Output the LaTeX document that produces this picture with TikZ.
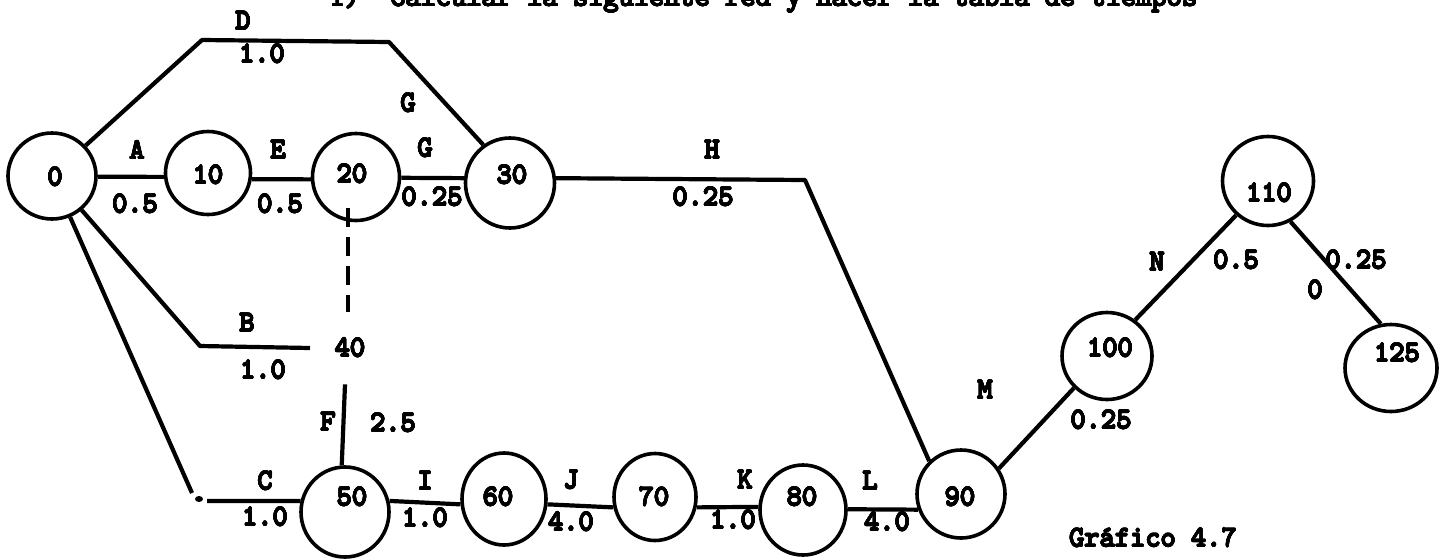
\documentclass[tikz,border=0pt]{standalone}
\usepackage{fontspec}
\newfontfamily\tw{lmmono10-regular.otf}
\usepackage{contour}
\contourlength{0.32pt}
\contournumber{20}
\newcommand{\ctx}[1]{\contour{black}{#1}}
\usetikzlibrary{shapes.geometric}
\begin{document}
\begin{tikzpicture}[x=0.5pt,y=-0.5pt,
  ev/.style={draw, ellipse, line width=1.8pt, inner sep=0pt},
  conn/.style={line width=2.1pt, line join=round},
  lab/.style={font=\tw\fontsize{14.5}{17}\selectfont, inner sep=0pt},
  dash20/.style={line width=2pt, dash pattern=on 9.5pt off 5pt}]
\useasboundingbox (0,0) rectangle (1439,558);

% title (partly cut off at the top, as in the reference)
\node[lab, anchor=base west] (title) at (329,6) {\ctx{1)~~Calcular la siguiente red y hacer la tabla de tiempos}};

% event circles
\node[ev, minimum width=44pt, minimum height=43pt] (n0)   at (52,176)  {};
\node[ev, minimum width=42.5pt, minimum height=41.5pt] (n10) at (208,173) {};
\node[ev, minimum width=43.5pt, minimum height=43.5pt] (n20) at (356,177) {};
\node[ev, minimum width=44.5pt, minimum height=45pt] (n30) at (510,183) {};
\node[ev, minimum width=44pt, minimum height=45pt] (n50) at (345,512) {};
\node[ev, minimum width=42pt, minimum height=46pt] (n60) at (504,499) {};
\node[ev, minimum width=41pt, minimum height=43.5pt] (n70) at (655,497) {};
\node[ev, minimum width=43pt, minimum height=45pt] (n80) at (803,510) {};
\node[ev, minimum width=44pt, minimum height=44pt] (n90) at (961,494) {};
\node[ev, minimum width=45pt, minimum height=43.5pt] (n100) at (1107,356) {};
\node[ev, minimum width=45.5pt, minimum height=44.5pt] (n110) at (1268,181) {};
\node[ev, minimum width=46pt, minimum height=43.5pt] (n125) at (1391,368) {};

% event numbers
\node[lab] (t0)   at (55,177)   {\ctx{0}};
\node[lab] (t10)  at (208,175)  {\ctx{10}};
\node[lab] (t20)  at (352,174)  {\ctx{20}};
\node[lab] (t30)  at (512,175)  {\ctx{30}};
\node[lab, minimum height=36pt] (n40) at (350,348) {\ctx{40}};
\node[lab] (t50)  at (352,497)  {\ctx{50}};
\node[lab] (t60)  at (498,497)  {\ctx{60}};
\node[lab] (t70)  at (654,497)  {\ctx{70}};
\node[lab] (t80)  at (802,497)  {\ctx{80}};
\node[lab] (t90)  at (960,497)  {\ctx{90}};
\node[lab] (t100) at (1110,348) {\ctx{100}};
\node[lab] (t110) at (1269,193) {\ctx{110}};
\node[lab] (t125) at (1397,353) {\ctx{125}};

% corner / free-end coordinates
\coordinate (cD1) at (202,40);
\coordinate (cD2) at (389,42);
\coordinate (cB)  at (200,346);
\coordinate (eB)  at (310,348);
\coordinate (cC1) at (192,493);
\coordinate (cCd) at (199,499);
\coordinate (cC2) at (207,501);
\coordinate (cH)  at (805,180);
\coordinate (d20) at (348,208);

% activities
\draw[conn] (n0) -- (cD1) -- (cD2) -- (n30.125);
\draw[conn] (n0.-1) -- (n10.185);
\draw[conn] (n10.-8) -- (n20.183);
\draw[conn] (n20.-1) -- (n30.174);
\draw[conn] (n30.6) -- (cH) -- (n90.134);
\draw[conn] (n0) -- (cB) -- (eB);
\draw[conn] (n0) -- (cC1);
\fill (cCd) ellipse [x radius=4, y radius=3];
\draw[conn] (cC2) -- (n50.166);
\draw[dash20] (d20) -- (d20 |- n40.north);
\draw[conn] (n40.south -| n50.north) -- (n50.94);
\draw[conn] (n50.14) -- (n60.187);
\draw[conn] (n60.-7) -- (n70.194);
\draw[conn] (n70.-14) -- (n80.176);
\draw[conn] (n80.1) -- (n90.200);
\draw[conn] (n90.34) -- (n100.224);
\draw[conn] (n100.52) -- (n110.227);
\draw[conn] (n110.-61) -- (n125.103);

% activity labels
\node[lab] (lD)  at (243,21)  {\ctx{D}};
\node[lab] (vD)  at (262,54)  {\ctx{1.0}};
\node[lab] (lG1) at (408,103) {\ctx{G}};
\node[lab] (lA)  at (137,150) {\ctx{A}};
\node[lab] (vA)  at (135,204) {\ctx{0.5}};
\node[lab] (lE)  at (278,150) {\ctx{E}};
\node[lab] (vE)  at (280,204) {\ctx{0.5}};
\node[lab] (lG)  at (425,148) {\ctx{G}};
\node[lab] (vG)  at (432,197) {\ctx{0.25}};
\node[lab] (lH)  at (712,150) {\ctx{H}};
\node[lab] (vH)  at (703,197) {\ctx{0.25}};
\node[lab] (lB)  at (247,323) {\ctx{B}};
\node[lab] (vB)  at (263,370) {\ctx{1.0}};
\node[lab] (lF)  at (328,422) {\ctx{F}};
\node[lab] (vF)  at (393,423) {\ctx{2.5}};
\node[lab] (lC)  at (265,481) {\ctx{C}};
\node[lab] (vC)  at (265,517) {\ctx{1.0}};
\node[lab] (lI)  at (425,481) {\ctx{I}};
\node[lab] (vI)  at (425,518) {\ctx{1.0}};
\node[lab] (lJ)  at (571,480) {\ctx{J}};
\node[lab] (vJ)  at (571,522) {\ctx{4.0}};
\node[lab] (lK)  at (745,480) {\ctx{K}};
\node[lab] (vK)  at (733,520) {\ctx{1.0}};
\node[lab] (lL)  at (870,481) {\ctx{L}};
\node[lab] (vL)  at (887,522) {\ctx{4.0}};
\node[lab] (lM)  at (985,390) {\ctx{M}};
\node[lab] (vM)  at (1101,420) {\ctx{0.25}};
\node[lab] (lN)  at (1157,262) {\ctx{N}};
\node[lab] (vN)  at (1236,260) {\ctx{0.5}};
\node[lab] (lO)  at (1315,290) {\ctx{0}};
\node[lab] (vO)  at (1356,260) {\ctx{0.25}};
\node[lab] (cap) at (1153,538) {\ctx{Gráfico 4.7}};
\end{tikzpicture}
\end{document}
